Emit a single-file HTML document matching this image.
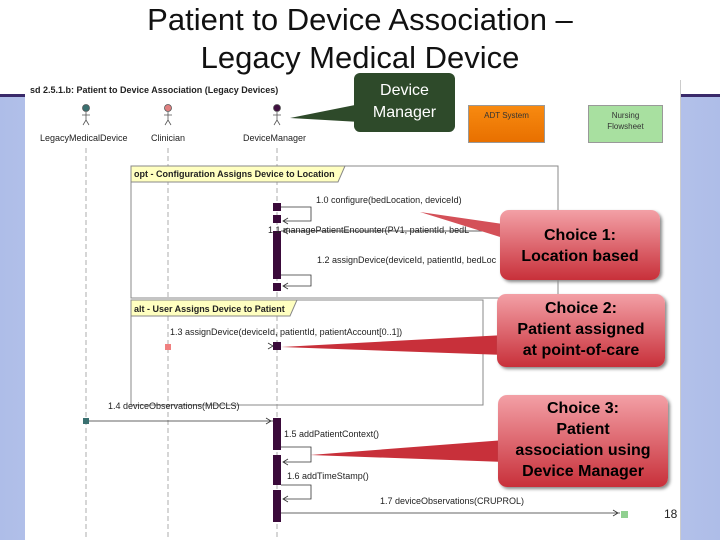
<!DOCTYPE html>
<html><head><meta charset="utf-8"><style>
body{margin:0;width:720px;height:540px;position:relative;overflow:hidden;background:#fff;font-family:"Liberation Sans",sans-serif}
.a{position:absolute}
.t{font-size:9px;color:#222;white-space:nowrap}
.call{position:absolute;background:linear-gradient(#f3a0a6,#c8303a);border-radius:9px;color:#000;font-weight:bold;font-size:16px;text-align:center;line-height:21px;box-shadow:2px 2px 3px #888}
</style></head><body>
<div class="a" style="left:0;top:95px;width:720px;height:445px;background:linear-gradient(90deg,#aebde8,#d6def6 50%,#aebde8)"></div>
<div class="a" style="left:0;top:94px;width:720px;height:3px;background:#3a2a6a"></div>
<div class="a" style="left:25px;top:80px;width:655px;height:460px;background:#fff;border-right:1px solid #ccc"></div>
<div class="a" style="left:0;top:1px;width:720px;text-align:center;font-size:31px;line-height:38px;color:#111">Patient to Device Association –<br>Legacy Medical Device</div>
<div class="a t" style="left:30px;top:85px;font-weight:bold">sd 2.5.1.b: Patient to Device Association (Legacy Devices)</div>
<svg class="a" style="left:0;top:0" width="720" height="540">
<g stroke="#999" stroke-dasharray="5,3" stroke-width="0.8"><line x1="86" y1="148" x2="86" y2="540"/><line x1="168" y1="148" x2="168" y2="540"/><line x1="277" y1="148" x2="277" y2="540"/></g>
<g stroke="#555" stroke-width="0.8" fill="none">
<circle cx="86" cy="108" r="3.5" fill="#3a7070"/><path d="M86 112v8M82 115h8M86 120l-3 5M86 120l3 5"/>
<circle cx="168" cy="108" r="3.5" fill="#e08080"/><path d="M168 112v8M164 115h8M168 120l-3 5M168 120l3 5"/>
<circle cx="277" cy="108" r="3.5" fill="#401040"/><path d="M277 112v8M273 115h8M277 120l-3 5M277 120l3 5"/>
</g>
<polygon points="290,118 360,104 360,122" fill="#2e4a2a"/>
<rect x="131" y="166" width="427" height="132" fill="none" stroke="#888"/>
<polygon points="131,166 345,166 338,182 131,182" fill="#ffffc0" stroke="#888"/>
<rect x="131" y="300" width="352" height="105" fill="none" stroke="#888"/>
<polygon points="131,300 297,300 290,316 131,316" fill="#ffffc0" stroke="#888"/>
<g fill="#3a0a3a"><rect x="273" y="203" width="8" height="8"/><rect x="273" y="215" width="8" height="8"/><rect x="273" y="231" width="8" height="48"/><rect x="273" y="283" width="8" height="8"/><rect x="273" y="342" width="8" height="8"/><rect x="273" y="418" width="8" height="32"/><rect x="273" y="455" width="8" height="30"/><rect x="273" y="490" width="8" height="32"/></g>
<g stroke="#333" stroke-width="0.8" fill="none">
<path d="M281 207h30v14h-28M288 218l-5 3 5 3"/>
<path d="M540 231H281M288 228l-5 3 5 3"/>
<path d="M281 275h30v11h-28M288 283l-5 3 5 3"/>
<path d="M86 421H273M266 418l5 3-5 3"/>
<path d="M281 447h30v15h-28M288 459l-5 3 5 3"/>
<path d="M281 485h30v14h-28M288 496l-5 3 5 3"/>
<path d="M281 513H620M613 510l5 3-5 3"/>
<path d="M268 343l5 3-5 3"/>
</g>
<rect x="165" y="344" width="6" height="6" fill="#f08080"/>
<rect x="83" y="418" width="6" height="6" fill="#3a7070"/>
<rect x="621" y="511" width="7" height="7" fill="#90d090"/>
<polygon points="420,212 510,240 510,225" fill="#d45058"/>
<polygon points="281,347 505,335 505,355" fill="#c8303a"/>
<polygon points="310,455 505,440 505,462" fill="#c8303a"/>
</svg>
<div class="a" style="left:354px;top:73px;width:101px;height:59px;background:#2e4a2a;border-radius:6px;color:#fff;font-size:16px;text-align:center;line-height:22px;padding-top:7px;box-sizing:border-box">Device<br>Manager</div>
<div class="a" style="left:468px;top:105px;width:77px;height:38px;background:linear-gradient(#f88a10,#e87000);border:1px solid #999;font-size:8px;color:#333;text-align:center;padding-top:5px;box-sizing:border-box">ADT System</div>
<div class="a" style="left:588px;top:105px;width:75px;height:38px;background:#a8e0a0;border:1px solid #999;font-size:8px;color:#333;text-align:center;padding-top:4px;line-height:11px;box-sizing:border-box">Nursing<br>Flowsheet</div>
<div class="a t" style="left:40px;top:133px">LegacyMedicalDevice</div>
<div class="a t" style="left:151px;top:133px">Clinician</div>
<div class="a t" style="left:243px;top:133px">DeviceManager</div>
<div class="a t" style="left:134px;top:169px;font-weight:bold">opt - Configuration Assigns Device to Location</div>
<div class="a t" style="left:134px;top:304px;font-weight:bold">alt - User Assigns Device to Patient</div>
<div class="a t" style="left:316px;top:195px">1.0 configure(bedLocation, deviceId)</div>
<div class="a t" style="left:268px;top:225px">1.1 managePatientEncounter(PV1, patientId, bedL</div>
<div class="a t" style="left:317px;top:255px">1.2 assignDevice(deviceId, patientId, bedLoc</div>
<div class="a t" style="left:170px;top:327px">1.3 assignDevice(deviceId, patientId, patientAccount[0..1])</div>
<div class="a t" style="left:108px;top:401px">1.4 deviceObservations(MDCLS)</div>
<div class="a t" style="left:284px;top:429px">1.5 addPatientContext()</div>
<div class="a t" style="left:287px;top:471px">1.6 addTimeStamp()</div>
<div class="a t" style="left:380px;top:496px">1.7 deviceObservations(CRUPROL)</div>
<div class="call" style="left:500px;top:210px;width:160px;height:70px;padding-top:15px;box-sizing:border-box">Choice 1:<br>Location based</div>
<div class="call" style="left:497px;top:294px;width:168px;height:73px;padding-top:4px;box-sizing:border-box">Choice 2:<br>Patient assigned<br>at point-of-care</div>
<div class="call" style="left:498px;top:395px;width:170px;height:92px;padding-top:3px;box-sizing:border-box">Choice 3:<br>Patient<br>association using<br>Device Manager</div>
<div class="a" style="left:664px;top:507px;font-size:12px;color:#222">18</div>
</body></html>
